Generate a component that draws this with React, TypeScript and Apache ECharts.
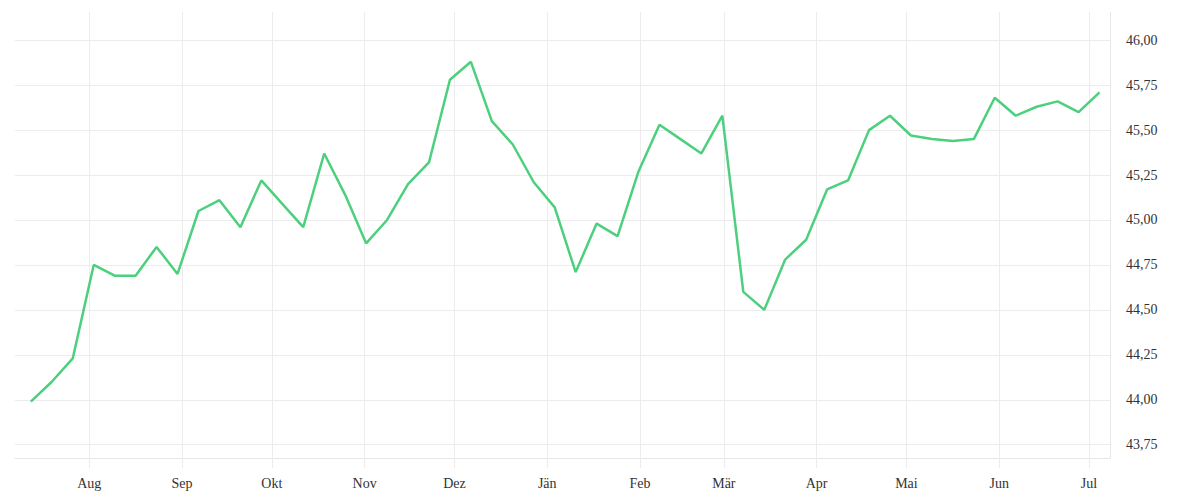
import { useEffect, useRef } from 'react';
import * as echarts from 'echarts';

// weekly observations (local time, noon)
const dates = [
  '2024-07-12', '2024-07-19', '2024-07-26', '2024-08-02', '2024-08-09', '2024-08-16',
  '2024-08-23', '2024-08-30', '2024-09-06', '2024-09-13', '2024-09-20', '2024-09-27',
  '2024-10-04', '2024-10-11', '2024-10-18', '2024-10-25', '2024-11-01', '2024-11-08',
  '2024-11-15', '2024-11-22', '2024-11-29', '2024-12-06', '2024-12-13', '2024-12-20',
  '2024-12-27', '2025-01-03', '2025-01-10', '2025-01-17', '2025-01-24', '2025-01-31',
  '2025-02-07', '2025-02-14', '2025-02-21', '2025-02-28', '2025-03-07', '2025-03-14',
  '2025-03-21', '2025-03-28', '2025-04-04', '2025-04-11', '2025-04-18', '2025-04-25',
  '2025-05-02', '2025-05-09', '2025-05-16', '2025-05-23', '2025-05-30', '2025-06-06',
  '2025-06-13', '2025-06-20', '2025-06-27', '2025-07-04',
];

const values = [
  43.99, 44.10, 44.23, 44.75, 44.69, 44.69, 44.85, 44.70, 45.05, 45.11, 44.96, 45.22,
  45.09, 44.96, 45.37, 45.14, 44.87, 45.00, 45.20, 45.32, 45.78, 45.88, 45.55, 45.42,
  45.21, 45.07, 44.71, 44.98, 44.91, 45.27, 45.53, 45.45, 45.37, 45.58, 44.60, 44.50,
  44.78, 44.89, 45.17, 45.22, 45.50, 45.58, 45.47, 45.45, 45.44, 45.45, 45.68, 45.58,
  45.63, 45.66, 45.60, 45.71,
];

const monthStarts = [
  '2024-08-01', '2024-09-01', '2024-10-01', '2024-11-01', '2024-12-01', '2025-01-01',
  '2025-02-01', '2025-03-01', '2025-04-01', '2025-05-01', '2025-06-01', '2025-07-01',
];
const monthLabels = ['Aug', 'Sep', 'Okt', 'Nov', 'Dez', 'Jän', 'Feb', 'Mär', 'Apr', 'Mai', 'Jun', 'Jul'];

const yTicks = [43.75, 44.0, 44.25, 44.5, 44.75, 45.0, 45.25, 45.5, 45.75, 46.0];

const toTime = (d: string, hour = 0) => new Date(`${d}T${String(hour).padStart(2, '0')}:00:00`).getTime();

export default function App() {
  const chartRef = useRef<HTMLDivElement>(null);

  useEffect(() => {
    document.body.style.margin = '0';
    if (!chartRef.current) return;

    const chart = echarts.init(chartRef.current, null, { renderer: 'svg' });

    const monthTimes = monthStarts.map(d => toTime(d));
    const gridColor = '#ececec';
    const textColor = '#333333';
    const font = "'Liberation Serif', serif";

    const option = {
      animation: false,
      grid: {
        left: 15,
        right: 90,
        top: 12,
        bottom: 42,
      },
      xAxis: {
        // timestamps on a value axis so month ticks can be placed exactly
        type: 'value',
        min: toTime('2024-07-07', 5),
        max: toTime('2025-07-08', 0),
        axisLine: { show: true, lineStyle: { color: '#e6e6e6', width: 1 } },
        axisTick: {
          show: true,
          length: 10,
          customValues: monthTimes,
          lineStyle: { color: gridColor },
        },
        axisLabel: {
          customValues: monthTimes,
          margin: 18,
          color: textColor,
          fontFamily: font,
          fontSize: 14,
          formatter: (v: number) => {
            const i = monthTimes.indexOf(v);
            return i >= 0 ? monthLabels[i] : '';
          },
        },
        splitLine: { show: true, lineStyle: { color: gridColor, width: 1 } },
      },
      yAxis: {
        type: 'value',
        position: 'right',
        min: 43.676,
        max: 46.157,
        axisLine: { show: true, lineStyle: { color: '#e6e6e6', width: 1 } },
        axisTick: { show: false, customValues: yTicks },
        axisLabel: {
          customValues: yTicks,
          margin: 16,
          color: textColor,
          fontFamily: font,
          fontSize: 14,
          formatter: (v: number) => v.toFixed(2).replace('.', ','),
        },
        splitLine: { show: true, lineStyle: { color: gridColor, width: 1 } },
      },
      series: [
        {
          type: 'line',
          data: dates.map((d, i) => [toTime(d, 12), values[i]]),
          showSymbol: false,
          lineStyle: { color: '#4cd07d', width: 2.5 },
          itemStyle: { color: '#4cd07d' },
        },
      ],
    };

    chart.setOption(option);

    return () => {
      chart.dispose();
    };
  }, []);

  return <div ref={chartRef} style={{ width: '1200px', height: '500px' }} />;
}
